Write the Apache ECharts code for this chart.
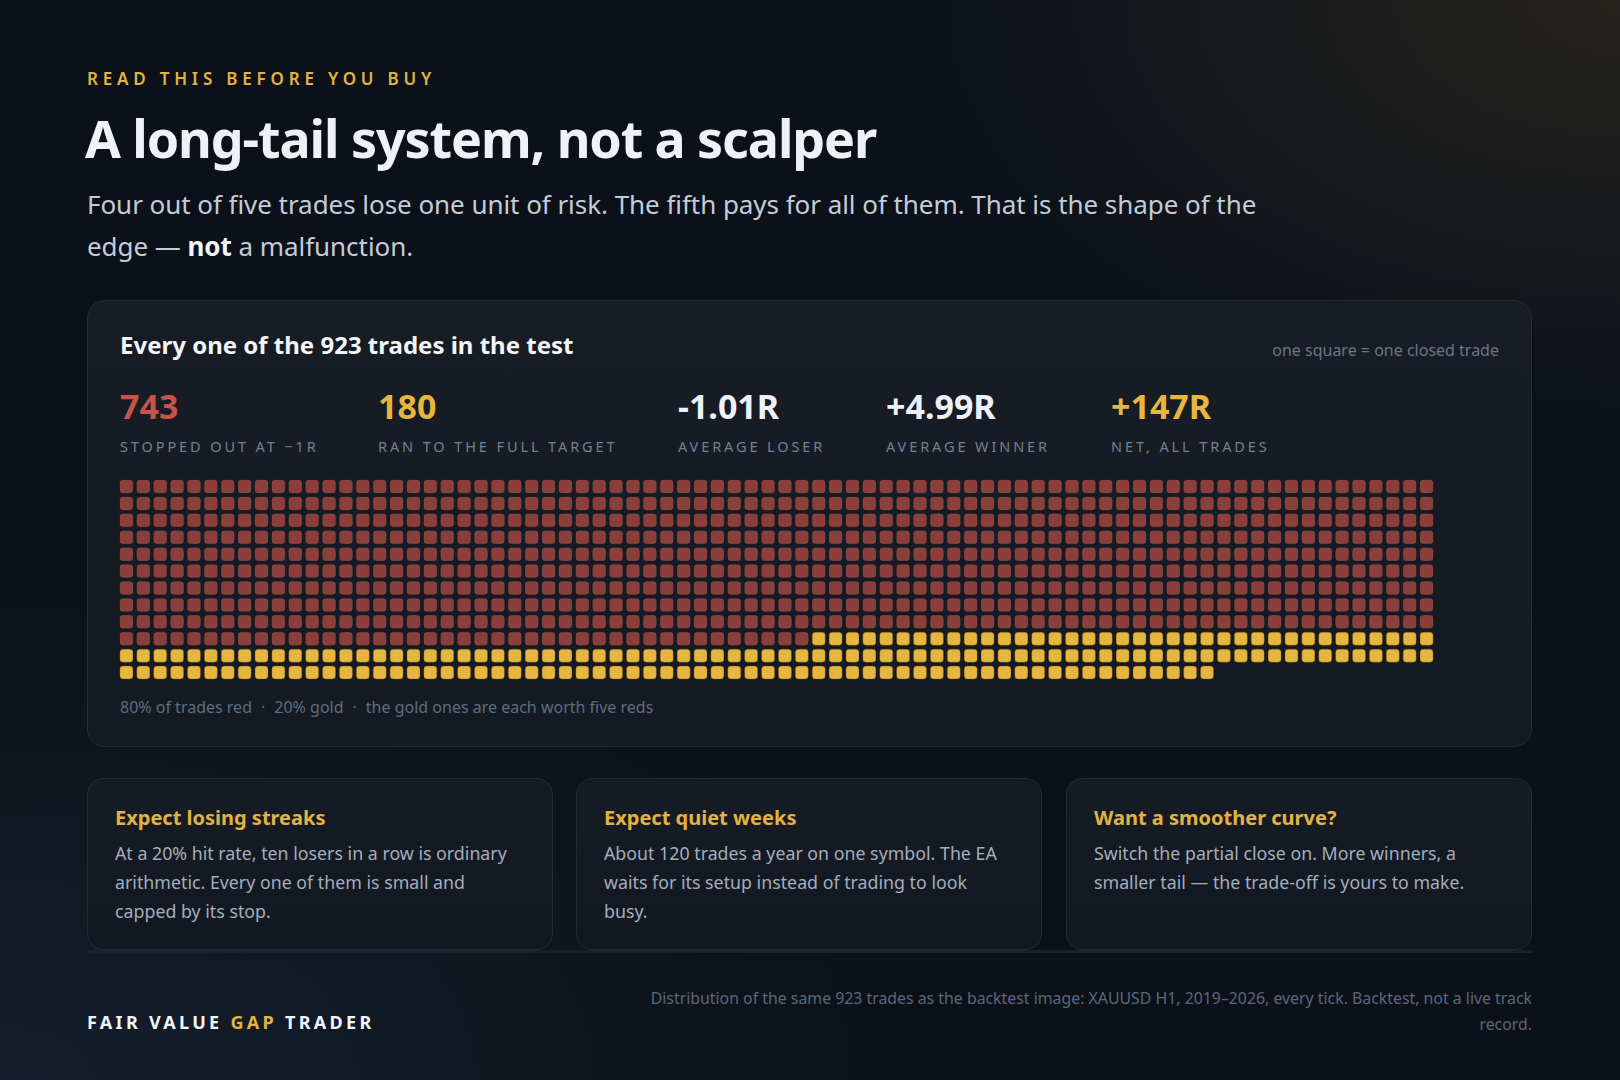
<!DOCTYPE html>
<html>
<head>
<meta charset="utf-8">
<title>A long-tail system, not a scalper</title>
<script src="https://cdn.jsdelivr.net/npm/echarts@6/dist/echarts.min.js"></script>
<style>
  html, body { margin: 0; padding: 0; }
  body {
    width: 1620px; height: 1080px; overflow: hidden; position: relative;
    font-family: "Noto Sans", "Open Sans", sans-serif;
    background:
      radial-gradient(ellipse 700px 420px at 100% 0%, rgba(58,50,34,0.55), rgba(58,50,34,0) 100%),
      radial-gradient(ellipse 900px 500px at 0% 100%, rgba(24,36,52,0.7), rgba(24,36,52,0) 100%),
      #0c1119;
  }
  .abs { position: absolute; white-space: nowrap; line-height: 1; }
  .eyebrow { left: 87px; top: 70px; font-size: 17px; font-weight: 600; letter-spacing: 4.8px; color: #e3b341; }
  .title { left: 85px; top: 112px; font-size: 52px; font-weight: 700; color: #eef2f8; letter-spacing: -1.1px; }
  .sub { left: 87px; top: 183px; font-size: 26px; line-height: 42px; color: #c3ccd8; letter-spacing: -0.05px; }
  .sub b { color: #f2f5fa; font-weight: 700; }
  .card {
    position: absolute; left: 87px; top: 300px; width: 1443px; height: 445px;
    border: 1px solid #242c38; border-radius: 18px;
    background: linear-gradient(180deg, #171c25 0%, #141922 100%);
  }
  .cardTitle { left: 120px; top: 333px; font-size: 24px; font-weight: 700; color: #f2f5fa; }
  .legendNote { right: 121px; top: 342px; font-size: 16px; color: #687689; }
  .statVal { top: 389px; font-size: 34px; font-weight: 700; color: #eef2f8; }
  .statLab { top: 439px; font-size: 14.5px; letter-spacing: 2.9px; color: #728095; }
  .waffleNote { left: 120px; top: 699px; font-size: 16px; color: #5f6d80; }
  .waffleNote span { padding: 0 9px; }
  #waffle { position: absolute; left: 118px; top: 478px; width: 1317px; height: 203px; }
  .tile {
    position: absolute; top: 778px; width: 464px; height: 170px;
    border: 1px solid #232b37; border-radius: 16px;
    background: linear-gradient(180deg, #161b24 0%, #121821 100%);
  }
  .tileHead { font-size: 20px; font-weight: 700; color: #e3b341; }
  .tileBody { font-size: 17.8px; line-height: 29px; color: #a3aebd; white-space: nowrap; }
  .rule { position: absolute; left: 87px; top: 950px; width: 1445px; height: 3px; background: #1a212c; }
  .brand { left: 87px; top: 1013px; font-size: 18px; font-weight: 700; letter-spacing: 3.3px; color: #f2f5fa; }
  .brand span { color: #e3b341; }
  .source { right: 88px; top: 985px; font-size: 15.85px; line-height: 26px; color: #5a687b; text-align: right; }
</style>
</head>
<body>
<div class="abs eyebrow">READ THIS BEFORE YOU BUY</div>
<div class="abs title">A long-tail system, not a scalper</div>
<div class="abs sub">Four out of five trades lose one unit of risk. The fifth pays for all of them. That is the shape of the<br>edge — <b>not</b> a malfunction.</div>

<div class="card"></div>
<div class="abs cardTitle">Every one of the 923 trades in the test</div>
<div class="abs legendNote">one square = one closed trade</div>
<div id="stats"></div>
<div id="waffle"></div>
<div class="abs waffleNote">80% of trades red<span>·</span>20% gold<span>·</span>the gold ones are each worth five reds</div>

<div id="tiles"></div>
<div class="rule"></div>
<div class="abs brand">FAIR VALUE <span>GAP</span> TRADER</div>
<div class="abs source">Distribution of the same 923 trades as the backtest image: XAUUSD H1, 2019–2026, every tick. Backtest, not a live track<br>record.</div>

<script>
// trade outcomes, one square each
const outcomes = ['Stopped out at −1R', 'Ran to the full target'];
const tradeCounts = [743, 180];
const outcomeColors = ['#8b3e3a', '#e5b741'];
const gridColumns = 78;

// headline numbers above the grid
const statValues = ['743', '180', '-1.01R', '+4.99R', '+147R'];
const statLabels = ['STOPPED OUT AT −1R', 'RAN TO THE FULL TARGET', 'AVERAGE LOSER', 'AVERAGE WINNER', 'NET, ALL TRADES'];
const statColors = ['#c9524a', '#e5b741', '#eef2f8', '#eef2f8', '#e5b741'];
const statX = [120, 378, 678, 886, 1111];

// the three notes under the chart
const tileHeads = ['Expect losing streaks', 'Expect quiet weeks', 'Want a smoother curve?'];
const tileLines = [
    ['At a 20% hit rate, ten losers in a row is ordinary', 'arithmetic. Every one of them is small and', 'capped by its stop.'],
    ['About 120 trades a year on one symbol. The EA', 'waits for its setup instead of trading to look', 'busy.'],
    ['Switch the partial close on. More winners, a', 'smaller tail — the trade-off is yours to make.']
];
const tileX = [87, 576, 1066];

let statsHtml = '';
statValues.forEach((v, i) => {
    statsHtml += '<div class="abs statVal" style="left:' + statX[i] + 'px;color:' + statColors[i] + '">' + v + '</div>';
    statsHtml += '<div class="abs statLab" style="left:' + statX[i] + 'px">' + statLabels[i] + '</div>';
});
document.getElementById('stats').innerHTML = statsHtml;

let tilesHtml = '';
tileHeads.forEach((h, i) => {
    tilesHtml += '<div class="tile" style="left:' + tileX[i] + 'px"></div>';
    tilesHtml += '<div class="abs tileHead" style="left:' + (tileX[i] + 28) + 'px;top:808px">' + h + '</div>';
    tilesHtml += '<div class="abs tileBody" style="left:' + (tileX[i] + 28) + 'px;top:839px;line-height:29px">' + tileLines[i].join('<br>') + '</div>';
});
document.getElementById('tiles').innerHTML = tilesHtml;

// lay the trades out row by row, losers first
let seriesData = outcomes.map(() => []);
let idx = 0;
tradeCounts.forEach((count, k) => {
    for (let n = 0; n < count; n++) {
        seriesData[k].push([idx % gridColumns, Math.floor(idx / gridColumns)]);
        idx++;
    }
});
const rows = Math.ceil(idx / gridColumns);

var myChart = echarts.init(document.getElementById('waffle'), null, { renderer: 'svg' });
var option = {
    animation: false,
    grid: { left: 0, right: 0, top: 0, bottom: 0 },
    xAxis: { type: 'value', min: -0.5, max: gridColumns - 0.5, show: false },
    yAxis: { type: 'value', min: -0.5, max: rows - 0.5, inverse: true, show: false },
    series: outcomes.map((name, k) => ({
        name: name,
        type: 'scatter',
        symbol: 'roundRect',
        symbolSize: 13,
        silent: true,
        itemStyle: {
            color: outcomeColors[k],
            opacity: 1,
            borderColor: k === 0 ? 'rgba(255,255,255,0.05)' : 'rgba(120,80,0,0.35)',
            borderWidth: 1
        },
        data: seriesData[k]
    }))
};
myChart.setOption(option);
</script>
</body>
</html>
